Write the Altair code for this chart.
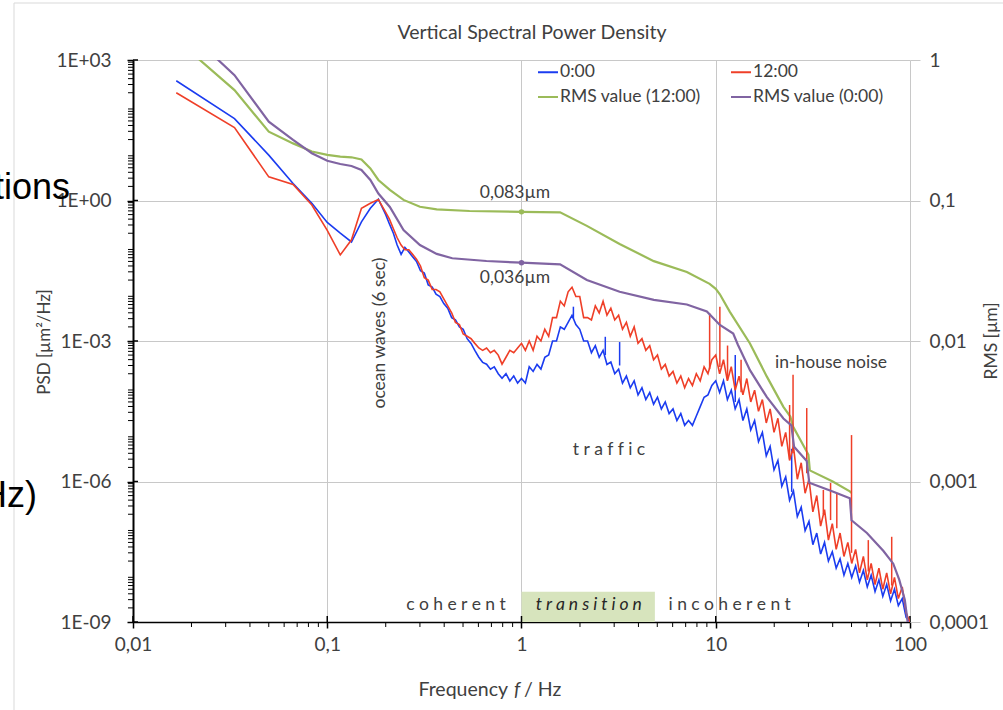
import altair as alt
import pandas as pd

FONT = "Lato"
TXT = "#404040"

# ---------------- data ----------------
psd_freq = [
    0.0167, 0.0333, 0.05, 0.0667, 0.0833, 0.1, 0.1167, 0.1333, 0.15, 0.1667, 0.1833,
    0.2, 0.209, 0.219, 0.229, 0.24, 0.251, 0.263, 0.275, 0.288, 0.302, 0.316, 0.331, 0.347,
    0.363, 0.38, 0.398, 0.417, 0.437, 0.457, 0.479, 0.501, 0.525, 0.55, 0.575, 0.603, 0.631,
    0.661, 0.692, 0.724, 0.759, 0.794, 0.832, 0.871, 0.912, 0.955,
    1.0, 1.047, 1.096, 1.148, 1.202, 1.259, 1.318, 1.38, 1.445, 1.514, 1.585, 1.66, 1.738,
    1.82, 1.905, 1.995, 2.089, 2.188, 2.291, 2.399, 2.512, 2.63, 2.754, 2.884, 3.02, 3.162,
    3.311, 3.467, 3.631, 3.802, 3.981, 4.169, 4.365, 4.571, 4.786, 5.012, 5.248, 5.495,
    5.754, 6.026, 6.31, 6.607, 6.918, 7.244, 7.586, 7.943, 8.318, 8.71, 9.12, 9.55,
    10.0, 10.47, 10.96, 11.48, 12.02, 12.59, 13.18, 13.8, 14.45, 15.14, 15.85, 16.6, 17.38,
    18.2, 19.05, 19.95, 20.89, 21.88, 22.91, 23.99, 25.12, 26.3, 27.54, 28.84, 30.2, 31.62,
    33.11, 34.67, 36.31, 38.02, 39.81, 41.69, 43.65, 45.71, 47.86, 50.12, 52.48, 54.95,
    57.54, 60.26, 63.1, 66.07, 69.18, 72.44, 75.86, 79.43, 83.18, 87.1, 91.2, 95.5, 100.0,
]

psd_0000 = [
    360, 56, 9.3, 2.3, 0.87, 0.34, 0.2, 0.13, 0.35, 0.68, 1.07,
    0.5, 0.316, 0.2, 0.112, 0.0708, 0.1, 0.0794, 0.0631, 0.0501, 0.0316, 0.0282, 0.0158,
    0.0141, 0.01, 0.0089, 0.0063, 0.005, 0.00316, 0.00282, 0.002, 0.00178, 0.00112, 8.9e-4,
    6.3e-4, 4.5e-4, 3.5e-4, 3.2e-4, 2.5e-4, 2.8e-4, 2.0e-4, 1.6e-4, 2.0e-4, 1.4e-4, 1.8e-4,
    1.26e-4,
    1.58e-4, 1.26e-4, 2.82e-4, 2.24e-4, 3.16e-4, 2.51e-4, 4.47e-4, 5.01e-4, 1.0e-3, 1.0e-3,
    2.0e-3, 1.78e-3, 2.51e-3, 3.55e-3, 2.24e-3, 1.78e-3, 1.0e-3, 1.0e-3, 5.62e-4, 7.94e-4,
    4.47e-4, 6.31e-4, 3.16e-4, 3.55e-4, 2.0e-4, 2.51e-4, 1.26e-4, 1.78e-4, 1.0e-4, 1.41e-4,
    7.08e-5, 1.0e-4, 5.62e-5, 7.94e-5, 4.47e-5, 6.31e-5, 3.55e-5, 5.01e-5, 2.82e-5, 3.55e-5,
    2.0e-5, 2.82e-5, 1.58e-5, 2.0e-5, 1.58e-5, 2.51e-5, 3.98e-5, 6.31e-5, 7.08e-5, 1.12e-4,
    1.41e-4, 7.94e-5, 1.41e-4, 5.62e-5, 8.91e-5, 3.55e-5, 5.62e-5, 2.0e-5, 3.55e-5, 1.26e-5,
    2.0e-5, 7.08e-6, 1.12e-5, 3.55e-6, 5.62e-6, 1.78e-6, 2.82e-6, 7.94e-7, 1.26e-6, 3.98e-7,
    6.31e-7, 1.78e-7, 2.82e-7, 8.91e-8, 1.41e-7, 4.47e-8, 7.94e-8, 2.82e-8, 5.01e-8, 2.0e-8,
    3.16e-8, 1.41e-8, 2.24e-8, 1.0e-8, 1.78e-8, 8.91e-9, 1.58e-8, 7.08e-9, 1.26e-8, 5.62e-9,
    1.0e-8, 4.47e-9, 7.94e-9, 3.55e-9, 6.31e-9, 2.82e-9, 5.01e-9, 2.24e-9, 3.16e-9, 1.26e-9,
    1.0e-9,
]

psd_1200 = [
    200, 36, 3.2, 2.2, 0.8, 0.23, 0.069, 0.145, 0.68, 0.87, 1.05,
    0.56, 0.4, 0.25, 0.16, 0.112, 0.089, 0.089, 0.071, 0.056, 0.04, 0.0224, 0.02, 0.0126,
    0.0126, 0.0112, 0.0079, 0.0056, 0.004, 0.0025, 0.00224, 0.00141, 0.00126, 0.00112,
    8.9e-4, 7.1e-4, 6.3e-4, 7.1e-4, 5.6e-4, 6.3e-4, 5.0e-4, 3.2e-4, 4.5e-4, 6.3e-4, 5.6e-4,
    7.1e-4,
    8.91e-4, 6.31e-4, 1.0e-3, 6.31e-4, 1.26e-3, 1.0e-3, 1.78e-3, 1.26e-3, 3.16e-3, 3.16e-3,
    7.08e-3, 5.62e-3, 1.12e-2, 1.41e-2, 8.91e-3, 8.91e-3, 3.16e-3, 3.16e-3, 2.82e-3, 5.62e-3,
    3.98e-3, 7.08e-3, 3.55e-3, 5.01e-3, 2.82e-3, 3.55e-3, 1.78e-3, 2.51e-3, 1.26e-3, 2.0e-3,
    8.91e-4, 1.12e-3, 6.31e-4, 7.94e-4, 3.98e-4, 5.01e-4, 2.51e-4, 3.16e-4, 1.78e-4, 2.24e-4,
    1.26e-4, 1.78e-4, 1.0e-4, 1.58e-4, 1.12e-4, 2.0e-4, 1.41e-4, 2.82e-4, 2.0e-4, 3.98e-4,
    5.01e-4, 2.0e-4, 3.98e-4, 1.41e-4, 2.82e-4, 8.91e-5, 1.78e-4, 7.08e-5, 1.58e-4, 5.01e-5,
    8.91e-5, 3.16e-5, 5.62e-5, 1.78e-5, 3.55e-5, 1.12e-5, 2.24e-5, 5.62e-6, 1.12e-5, 2.82e-6,
    5.62e-6, 1.12e-6, 2.51e-6, 5.62e-7, 1.12e-6, 2.24e-7, 5.01e-7, 1.12e-7, 2.51e-7, 5.62e-8,
    1.26e-7, 3.55e-8, 7.94e-8, 2.51e-8, 5.01e-8, 1.78e-8, 3.55e-8, 1.12e-8, 2.51e-8, 7.94e-9,
    1.78e-8, 6.31e-9, 1.41e-8, 5.01e-9, 1.12e-8, 3.98e-9, 8.91e-9, 3.16e-9, 5.62e-9, 1.58e-9,
    1.0e-9,
]

# narrow peaks (frequency, band level, peak level)
spike_0000_freq = [1.85, 2.7, 3.2, 12.6, 24.6]
spike_0000_low = [3.0e-3, 5.0e-4, 3.0e-4, 5.0e-5, 6.0e-7]
spike_0000_high = [5.4e-3, 1.23e-3, 9.5e-4, 5.0e-4, 5.0e-6]

spike_1200_freq = [9.3, 10.5, 11.5, 13.5, 24.0, 25.0, 29.4, 35.8, 39.0, 42.0, 50.0, 61.0, 80.5]
spike_1200_low = [2.5e-4, 2.8e-4, 1.5e-4, 8.0e-5, 3.0e-6, 4.0e-6, 1.5e-6, 2.0e-7, 1.5e-7,
                  1.0e-7, 3.0e-8, 1.2e-8, 6.0e-9]
spike_1200_high = [3.9e-3, 5.4e-3, 8.0e-4, 4.0e-4, 4.3e-5, 1.9e-4, 3.7e-5, 6.6e-7, 9.3e-7,
                   5.6e-7, 9.8e-6, 5.6e-8, 6.6e-8]

rms_1200_freq = [0.0167, 0.0333, 0.05, 0.0667, 0.0833, 0.1, 0.1167, 0.1333, 0.15, 0.1667,
                 0.1833, 0.21, 0.247, 0.3, 0.366, 0.54, 1.0, 1.58, 2.17, 3.2, 4.8, 7.1, 9.3,
                 10.0, 10.5, 11.8, 15.0, 18.3, 22.3, 24.2, 25.0, 28.5, 30.0, 30.5, 40.0, 49.0, 50.0]
rms_1200 = [1.4, 0.611, 0.309, 0.255, 0.223, 0.211, 0.205, 0.203, 0.196, 0.169,
            0.14, 0.119, 0.101, 0.0903, 0.0865, 0.0842, 0.083, 0.0824, 0.066, 0.049, 0.037,
            0.031, 0.0255, 0.0235, 0.0215, 0.0162, 0.0096, 0.0056, 0.0034, 0.0029, 0.00246,
            0.00177, 0.00155, 0.0012, 0.001, 0.00085, 0.00083]

rms_0000_freq = [0.0167, 0.0333, 0.05, 0.0667, 0.0833, 0.1, 0.1167, 0.1333, 0.15, 0.1667,
                 0.1833, 0.21, 0.247, 0.3, 0.366, 0.44, 0.66, 1.0, 1.58, 2.17, 3.2, 4.8, 7.1,
                 9.0, 10.5, 12.3, 13.0, 15.0, 18.3, 22.3, 24.5, 25.3, 29.4, 30.3, 40.0, 49.0,
                 50.0, 60.0, 73.0, 82.0, 88.0, 94.0, 97.0, 99.0]
rms_0000 = [1.9, 0.78, 0.364, 0.27, 0.217, 0.192, 0.182, 0.176, 0.165, 0.14,
            0.112, 0.09, 0.0616, 0.0482, 0.0417, 0.0388, 0.0371, 0.0361, 0.0351, 0.0272,
            0.0224, 0.0196, 0.0182, 0.0162, 0.013, 0.0113, 0.0094, 0.0062, 0.004, 0.00281,
            0.00251, 0.00177, 0.0014, 0.00098, 0.00085, 0.00076, 0.00053, 0.00043, 0.00032,
            0.00026, 0.0002, 0.000144, 0.000103, 0.00007]

marked_freq = [1.0, 1.0]
marked_rms = [0.083, 0.036]
marked_series = ["RMS value (12:00)", "RMS value (0:00)"]

series_names = ["0:00", "12:00", "RMS value (12:00)", "RMS value (0:00)"]
series_colors = ["#1b3cf0", "#ef3f28", "#9bbb59", "#8064a2"]

x_major = [0.01, 0.1, 1, 10, 100]
x_labels = ["0,01", "0,1", "1", "10", "100"]
x_minor = [0.02, 0.03, 0.04, 0.05, 0.06, 0.07, 0.08, 0.09,
           0.2, 0.3, 0.4, 0.5, 0.6, 0.7, 0.8, 0.9,
           2, 3, 4, 5, 6, 7, 8, 9,
           20, 30, 40, 50, 60, 70, 80, 90]
psd_major = [1e-9, 1e-6, 1e-3, 1, 1e3]
psd_labels = ["1E-09", "1E-06", "1E-03", "1E+00", "1E+03"]
psd_minor = [2e-9, 3e-9, 4e-9, 5e-9, 6e-9, 7e-9, 8e-9, 9e-9,
             2e-8, 3e-8, 4e-8, 5e-8, 6e-8, 7e-8, 8e-8, 9e-8,
             2e-7, 3e-7, 4e-7, 5e-7, 6e-7, 7e-7, 8e-7, 9e-7,
             2e-6, 3e-6, 4e-6, 5e-6, 6e-6, 7e-6, 8e-6, 9e-6,
             2e-5, 3e-5, 4e-5, 5e-5, 6e-5, 7e-5, 8e-5, 9e-5,
             2e-4, 3e-4, 4e-4, 5e-4, 6e-4, 7e-4, 8e-4, 9e-4,
             2e-3, 3e-3, 4e-3, 5e-3, 6e-3, 7e-3, 8e-3, 9e-3,
             0.02, 0.03, 0.04, 0.05, 0.06, 0.07, 0.08, 0.09,
             0.2, 0.3, 0.4, 0.5, 0.6, 0.7, 0.8, 0.9,
             2, 3, 4, 5, 6, 7, 8, 9,
             20, 30, 40, 50, 60, 70, 80, 90,
             200, 300, 400, 500, 600, 700, 800, 900]
rms_major = [1e-4, 1e-3, 1e-2, 0.1, 1]
rms_labels = ["0,0001", "0,001", "0,01", "0,1", "1"]

# annotations: text, frequency, PSD level
ann_text = ["0,083µm", "0,036µm", "in-house noise"]
ann_freq = [0.926, 0.926, 39.2]
ann_psd = [1.45, 0.0221, 3.4e-4]
SP = "\u2005"
traffic_text, traffic_freq, traffic_psd = SP.join("traffic"), 2.82, 4.7e-6
ocean_text, ocean_freq, ocean_psd = "ocean waves (6 sec)", 0.187, 1.48e-3
zone_text = [SP.join("coherent"), SP.join("transition"), SP.join("incoherent")]
zone_freq = [0.46, 2.22, 11.8]
zone_psd = [2.3e-9, 2.3e-9, 2.3e-9]
transition_band = {"f1": [1.0], "f2": [4.86], "p1": [1e-9], "p2": [4.4e-9]}

# ---------------- scales / axes ----------------
xs = alt.Scale(type="log", domain=[0.01, 100], nice=False)
ys_psd = alt.Scale(type="log", domain=[1e-9, 1e3], nice=False)
ys_rms = alt.Scale(type="log", domain=[1e-4, 1], nice=False)
color_scale = alt.Scale(domain=series_names, range=series_colors)


def label_expr(values, labels):
    expr = "'" + labels[-1] + "'"
    for v, lab in zip(values[:-1][::-1], labels[:-1][::-1]):
        expr = "datum.value < " + repr(v * 3.0) + " ? '" + lab + "' : " + expr
    return expr


legend = alt.Legend(
    title=None, orient="none", legendX=404, legendY=1, columns=2, direction="horizontal",
    symbolType="stroke", symbolSize=400, symbolStrokeWidth=2,
    labelFont=FONT, labelFontSize=17.5, labelColor=TXT, labelOffset=1,
    columnPadding=26, rowPadding=5,
)

x_axis = alt.Axis(
    values=x_major, labelExpr=label_expr(x_major, x_labels), title=None,
    grid=True, gridColor="#c8c8c8", gridWidth=1,
    domainColor="black", domainWidth=1.5, tickColor="black", tickWidth=1.5, tickSize=6,
    labelFont=FONT, labelFontSize=19, labelColor=TXT, labelPadding=7,
    labelFlush=False, labelOverlap=False,
)
y_psd_axis = alt.Axis(
    values=psd_major, title=None, orient="left",
    labelExpr=label_expr(psd_major, psd_labels),
    grid=True, gridColor="#c8c8c8", gridWidth=1,
    domainColor="black", domainWidth=2, tickColor="black", tickWidth=1.5, tickSize=6,
    labelFont=FONT, labelFontSize=19, labelColor=TXT, labelPadding=16,
    labelFlush=False, labelOverlap=False,
)
y_rms_axis = alt.Axis(
    values=rms_major, title=None, orient="right",
    labelExpr=label_expr(rms_major, rms_labels),
    grid=False, domain=False, tickColor="#c8c8c8", tickWidth=1, tickSize=10,
    labelFont=FONT, labelFontSize=19, labelColor=TXT, labelPadding=9,
    labelFlush=False, labelOverlap=False,
)


def X(field):
    # every layer shares the same frequency axis definition
    return alt.X(field, scale=xs, axis=x_axis)


# ---------------- tables ----------------
n = len(psd_freq)
blue_df = pd.DataFrame({"freq": psd_freq, "val": psd_0000, "series": ["0:00"] * n})
red_df = pd.DataFrame({"freq": psd_freq, "val": psd_1200, "series": ["12:00"] * n})
green_df = pd.DataFrame({"freq": rms_1200_freq, "val": rms_1200,
                         "series": ["RMS value (12:00)"] * len(rms_1200)})
purple_df = pd.DataFrame({"freq": rms_0000_freq, "val": rms_0000,
                          "series": ["RMS value (0:00)"] * len(rms_0000)})
sp_blue_df = pd.DataFrame({"freq": spike_0000_freq, "lo": spike_0000_low, "hi": spike_0000_high})
sp_red_df = pd.DataFrame({"freq": spike_1200_freq, "lo": spike_1200_low, "hi": spike_1200_high})
mark_df = pd.DataFrame({"freq": marked_freq, "val": marked_rms, "series": marked_series})
dummy = pd.DataFrame({"d": [0]})


def line_layer(df, axis_y, rms=False):
    return alt.Chart(df).mark_line(clip=True, strokeWidth=2.2 if rms else 1.6).encode(
        x=X("freq:Q"),
        y=alt.Y("val:Q", scale=ys_rms if rms else ys_psd, axis=axis_y),
        color=alt.Color("series:N", scale=color_scale, legend=legend),
        order=alt.Order("freq:Q"),
    )


def spike_layer(df, color):
    return alt.Chart(df).mark_rule(clip=True, strokeWidth=1.5, color=color).encode(
        x=X("freq:Q"),
        y=alt.Y("lo:Q", scale=ys_psd, axis=None),
        y2="hi:Q",
    )


def ann_layer(texts, freqs, psds, **kw):
    df = pd.DataFrame({"label": texts, "freq": freqs, "psd": psds})
    style = dict(font=FONT, fontSize=17.5, color=TXT, align="center", baseline="middle")
    style.update(kw)
    return alt.Chart(df).mark_text(**style).encode(
        x=X("freq:Q"),
        y=alt.Y("psd:Q", scale=ys_psd, axis=None),
        text="label:N",
    )


def pix_text(text, x, y, **kw):
    style = dict(font=FONT, fontSize=17.5, color=TXT, align="center", baseline="middle")
    style.update(kw)
    return alt.Chart(pd.DataFrame({"t": [text]})).mark_text(**style).encode(
        x=alt.value(x), y=alt.value(y), text="t:N")


frame = alt.Chart(dummy).mark_rect(fill="transparent", stroke="#d9d9d9", strokeWidth=1).encode(
    x=alt.value(-119), x2=alt.value(885), y=alt.value(-57), y2=alt.value(670))

band = alt.Chart(pd.DataFrame(transition_band)).mark_rect(color="#d7e4bd").encode(
    x=X("f1:Q"), x2="f2:Q",
    y=alt.Y("p1:Q", scale=ys_psd, axis=None), y2="p2:Q")

minor_x = alt.Chart(pd.DataFrame({"freq": x_minor})).mark_rule(color="black", strokeWidth=1).encode(
    x=X("freq:Q"), y=alt.value(562), y2=alt.value(567))
minor_y = alt.Chart(pd.DataFrame({"t": psd_minor})).mark_rule(color="black", strokeWidth=1).encode(
    y=alt.Y("t:Q", scale=ys_psd, axis=None), x=alt.value(-5), x2=alt.value(0))
# inner half of the crossing major ticks
major_x_in = alt.Chart(pd.DataFrame({"freq": x_major})).mark_rule(color="black", strokeWidth=1.5).encode(
    x=X("freq:Q"), y=alt.value(556), y2=alt.value(562))
major_y_in = alt.Chart(pd.DataFrame({"t": psd_major})).mark_rule(color="black", strokeWidth=1.5).encode(
    y=alt.Y("t:Q", scale=ys_psd, axis=None), x=alt.value(0), x2=alt.value(5))

layers = [
    line_layer(blue_df, y_psd_axis),
    line_layer(green_df, y_rms_axis, rms=True),
    frame,
    band,
    minor_x,
    minor_y,
    major_x_in,
    major_y_in,
    spike_layer(sp_blue_df, series_colors[0]),
    line_layer(red_df, None),
    spike_layer(sp_red_df, series_colors[1]),
    line_layer(purple_df, None, rms=True),
    alt.Chart(mark_df).mark_point(filled=True, size=30, opacity=1).encode(
        x=X("freq:Q"),
        y=alt.Y("val:Q", scale=ys_rms, axis=None),
        color=alt.Color("series:N", scale=color_scale, legend=legend),
    ),
    ann_layer(ann_text, ann_freq, ann_psd),
    ann_layer([traffic_text], [traffic_freq], [traffic_psd]),
    ann_layer([ocean_text], [ocean_freq], [ocean_psd], angle=270),
    ann_layer([zone_text[0]], [zone_freq[0]], [zone_psd[0]]),
    ann_layer([zone_text[1]], [zone_freq[1]], [zone_psd[1]], fontStyle="italic", color="#262626"),
    ann_layer([zone_text[2]], [zone_freq[2]], [zone_psd[2]]),
    pix_text("Vertical Spectral Power Density", 399, -27, fontSize=19.5),
    pix_text("Frequency", 375, 630, align="right", fontSize=19.5),
    pix_text("f", 384, 630, fontStyle="italic", fontSize=19.5),
    pix_text("/ Hz", 391, 630, align="left", fontSize=19.5),
    pix_text("PSD  [µm²/Hz]", -88, 282, angle=270, fontSize=17),
    pix_text("RMS [µm]", 859, 281, angle=270, fontSize=17.5),
    pix_text("tions", -63, 139, align="right", baseline="alphabetic",
             font="Liberation Sans", fontSize=36, color="black"),
    pix_text("Hz)", -96, 447, align="right", baseline="alphabetic",
             font="Liberation Sans", fontSize=36, color="black"),
]

chart = alt.layer(*layers).resolve_scale(y="independent").properties(
    width=777, height=562,
    autosize=alt.AutoSizeParams(type="none"),
    padding={"left": 133, "top": 60, "right": 93, "bottom": 88},
    background="white",
).configure_view(stroke=None)

chart.save("out.html", embed_options={"renderer": "svg", "actions": False})
